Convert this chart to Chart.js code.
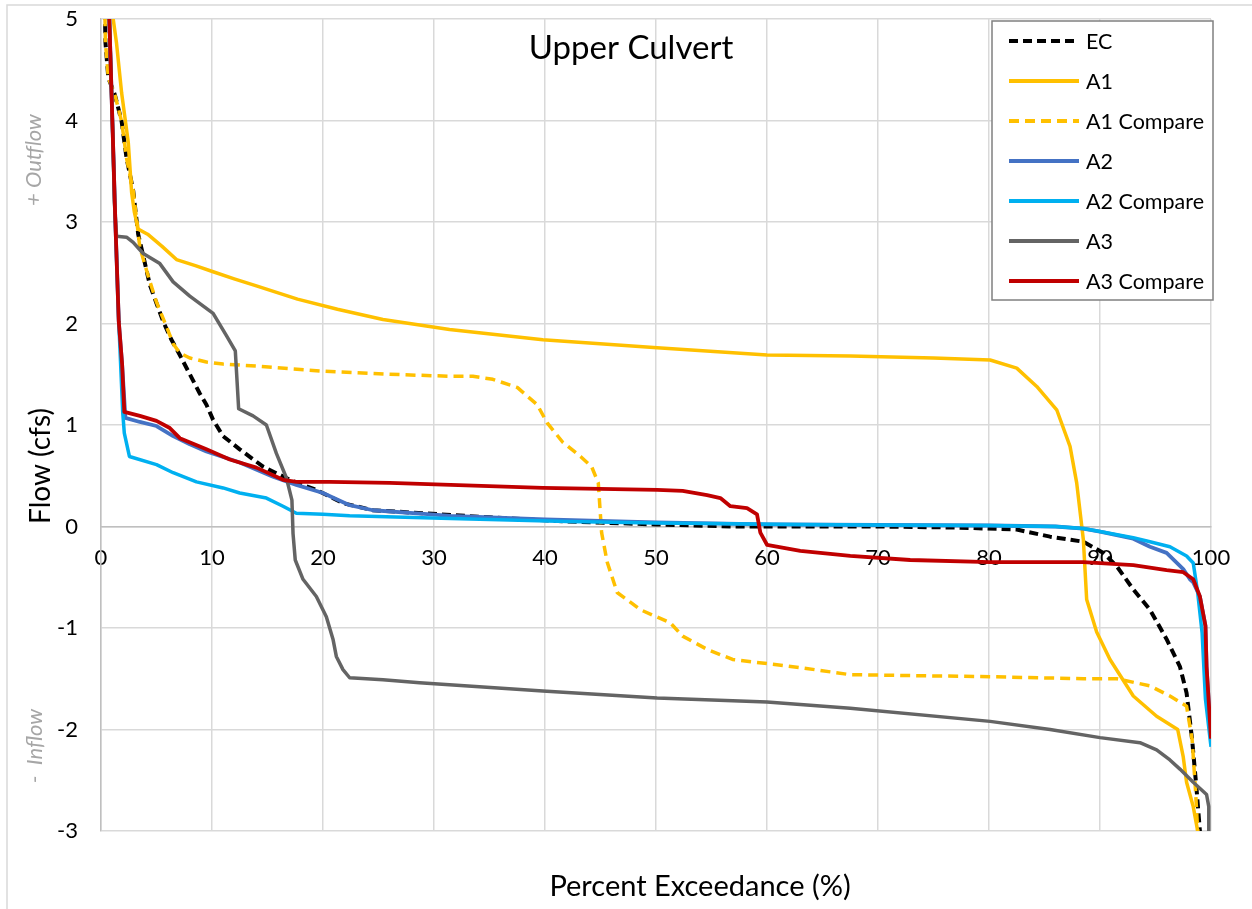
<!DOCTYPE html>
<html>
<head>
<meta charset="utf-8">
<title>Upper Culvert</title>
<script src="https://cdn.jsdelivr.net/npm/chart.js@4.4.1/dist/chart.umd.min.js"></script>
<style>
    html, body { margin: 0; padding: 0; background: #fff; }
    #wrap { width: 1252px; height: 909px; }
</style>
</head>
<body>
<div id="wrap"><canvas id="flowChart" width="1252" height="909"></canvas></div>
<script>
// Axis ticks
const xTicks = [0, 10, 20, 30, 40, 50, 60, 70, 80, 90, 100];
const yTicks = [-3, -2, -1, 0, 1, 2, 3, 4, 5];

// Series (percent exceedance, flow in cfs)
const ecX = [0.3, 0.36, 0.4, 0.66, 1.26, 1.86, 2.3, 2.9, 3.35, 3.9, 4.4, 5.0, 5.6, 6.3, 7.1, 8.0, 8.9, 9.5, 10.1, 11.0, 12.5, 14.6, 17.0, 19.4, 21.8, 24.5, 29.1, 35, 42, 50, 57, 70, 77, 82.5, 85.5, 88.5, 90.3, 91.5, 93.0, 94.5, 96.0, 97.2, 97.8, 98.3, 98.7, 99.0, 99.1];
const ecY = [5.5, 5.0, 4.77, 4.42, 4.25, 3.99, 3.63, 3.31, 2.88, 2.62, 2.38, 2.2, 2.02, 1.85, 1.69, 1.5, 1.31, 1.2, 1.05, 0.89, 0.76, 0.59, 0.46, 0.36, 0.23, 0.16, 0.13, 0.09, 0.05, 0.02, 0.0, 0.0, -0.01, -0.03, -0.1, -0.15, -0.26, -0.39, -0.62, -0.82, -1.11, -1.38, -1.64, -2.1, -2.59, -3.0, -3.2];

const a1X = [1.0, 1.1, 1.4, 1.86, 2.46, 2.76, 3.0, 3.35, 4.2, 5.5, 6.8, 8.5, 10.1, 12, 14.0, 17.7, 21.3, 25.4, 31.4, 39.8, 50.1, 60, 67.5, 75, 80.1, 82.5, 84.3, 86.1, 87.3, 87.9, 88.5, 88.8, 89.7, 90.9, 93.0, 95.1, 97.0, 97.5, 97.8, 98.4, 98.8, 99.0];
const a1Y = [5.5, 5.0, 4.76, 4.27, 3.78, 3.29, 3.1, 2.93, 2.88, 2.76, 2.63, 2.57, 2.51, 2.44, 2.37, 2.24, 2.14, 2.04, 1.94, 1.84, 1.76, 1.69, 1.68, 1.66, 1.64, 1.56, 1.38, 1.15, 0.79, 0.43, -0.13, -0.72, -1.04, -1.31, -1.67, -1.87, -2.0, -2.27, -2.52, -2.76, -3.0, -3.2];

const a1cX = [0.3, 0.36, 0.4, 0.66, 1.26, 1.86, 2.3, 2.9, 3.5, 4.3, 5.0, 5.9, 6.5, 7.1, 8.0, 9.5, 11, 14, 20, 26, 31.4, 33.5, 35.3, 37.5, 39.3, 40.2, 41.6, 43.2, 44.2, 44.8, 45.1, 45.6, 46.5, 48.6, 51.3, 52.4, 54.6, 56.9, 63, 67.5, 80.1, 88.5, 91.5, 94.5, 96.3, 97.8, 98.3, 98.6, 98.8, 98.9];
const a1cY = [5.5, 5.0, 4.77, 4.42, 4.25, 3.99, 3.63, 3.31, 2.75, 2.45, 2.21, 1.97, 1.8, 1.71, 1.66, 1.62, 1.6, 1.58, 1.53, 1.5, 1.48, 1.48, 1.45, 1.37, 1.2, 1.02, 0.83, 0.69, 0.59, 0.43, -0.06, -0.35, -0.65, -0.82, -0.95, -1.08, -1.21, -1.31, -1.39, -1.46, -1.48, -1.5, -1.5, -1.57, -1.67, -1.77, -2.1, -2.59, -3.0, -3.2];

const a2X = [0.6, 0.75, 1.08, 1.3, 1.6, 1.9, 2.2, 3.5, 5.0, 6.5, 8, 9.5, 12.5, 15.5, 17.6, 20, 22.4, 24.5, 29.1, 31.5, 40, 50, 60, 70, 80, 86, 88.5, 90, 93, 94.5, 96, 97.5, 98.1, 98.4, 99, 99.5, 99.6, 100];
const a2Y = [5.5, 5.0, 3.79, 2.98, 2.02, 1.6, 1.07, 1.03, 0.99, 0.89, 0.81, 0.74, 0.63, 0.49, 0.41, 0.33, 0.21, 0.16, 0.125, 0.105, 0.07, 0.04, 0.02, 0.015, 0.01, 0.0, -0.02, -0.05, -0.12, -0.2, -0.26, -0.42, -0.52, -0.55, -0.69, -0.98, -1.38, -2.1];

const a2cX = [0.6, 0.75, 1.08, 1.3, 1.6, 1.96, 2.1, 2.56, 5.0, 6.5, 8.6, 11, 12.5, 14.9, 16.4, 17.6, 20, 22.4, 31.5, 42, 50, 63, 70, 80, 86, 88.5, 90, 93, 94.5, 96.3, 97.8, 98.4, 98.8, 99.2, 99.5, 100];
const a2cY = [5.5, 5.0, 3.79, 2.98, 2.02, 1.12, 0.92, 0.69, 0.61, 0.53, 0.44, 0.38, 0.33, 0.28, 0.2, 0.13, 0.12, 0.105, 0.08, 0.05, 0.035, 0.02, 0.015, 0.01, 0.0, -0.02, -0.05, -0.11, -0.15, -0.2, -0.29, -0.36, -0.65, -1.05, -1.7, -2.17];

const a3X = [0.6, 0.75, 1.08, 1.2, 1.4, 2.3, 2.9, 3.8, 5.3, 6.5, 8.0, 10.1, 11.3, 12.1, 12.4, 13.7, 14.9, 15.8, 16.7, 17.2, 17.3, 17.5, 18.2, 19.4, 20.3, 20.9, 21.2, 21.8, 22.4, 25.4, 28.7, 39.8, 50.1, 60, 67.5, 80.1, 85.5, 90, 93.6, 95.1, 96.3, 97.2, 98.4, 99.6, 99.8, 99.8];
const a3Y = [5.5, 5.0, 3.79, 3.2, 2.86, 2.85, 2.8, 2.69, 2.59, 2.41, 2.27, 2.1, 1.88, 1.73, 1.16, 1.09, 1.0, 0.72, 0.48, 0.26, -0.07, -0.33, -0.52, -0.69, -0.89, -1.11, -1.28, -1.41, -1.49, -1.51, -1.54, -1.62, -1.69, -1.73, -1.79, -1.92, -2.0, -2.08, -2.13, -2.2, -2.3, -2.39, -2.52, -2.64, -2.76, -3.2];

const a3cX = [0.6, 0.75, 1.08, 1.3, 1.6, 1.9, 2.1, 3.5, 5.0, 6.2, 7.1, 9.5, 11.6, 14, 16.4, 17.6, 20.6, 26, 31.5, 39.8, 50.1, 52.4, 54.6, 55.8, 56.7, 58.2, 59.1, 59.4, 60, 63, 67.5, 72.9, 80.1, 88.5, 93, 96, 97.5, 98.4, 99, 99.5, 99.6, 100];
const a3cY = [5.5, 5.0, 3.79, 2.98, 2.02, 1.6, 1.13, 1.09, 1.04, 0.97, 0.87, 0.76, 0.66, 0.58, 0.46, 0.44, 0.44, 0.43, 0.41, 0.38, 0.36, 0.35, 0.31, 0.28, 0.2, 0.18, 0.12, -0.06, -0.18, -0.24, -0.29, -0.33, -0.35, -0.35, -0.38, -0.43, -0.45, -0.52, -0.69, -0.98, -1.38, -2.09];

const seriesNames = ["EC", "A1", "A1 Compare", "A2", "A2 Compare", "A3", "A3 Compare"];

function zip(xs, ys) {
    return xs.map((x, i) => ({ x: x, y: ys[i] }));
}

function line(label, xs, ys, color, width, dash) {
    return {
        label: label,
        data: zip(xs, ys),
        borderColor: color,
        backgroundColor: color,
        borderWidth: width,
        borderDash: dash || [],
        borderJoinStyle: 'round',
        pointRadius: 0,
        tension: 0,
        fill: false
    };
}

const datasets = [
    line(seriesNames[0], ecX, ecY, '#000000', 4, [9, 5]),
    line(seriesNames[1], a1X, a1Y, '#FFC000', 3.5),
    line(seriesNames[2], a1cX, a1cY, '#FFC000', 3.5, [10, 6]),
    line(seriesNames[3], a2X, a2Y, '#4472C4', 3.8),
    line(seriesNames[4], a2cX, a2cY, '#00B0F0', 3.5),
    line(seriesNames[5], a3X, a3Y, '#646464', 3.5),
    line(seriesNames[6], a3cX, a3cY, '#C00000', 3.8)
];
// Excel draws later series on top
datasets.forEach((d, i) => { d.order = datasets.length - i; });

const FONT = 'Lato, "Open Sans", sans-serif';

function rotatedText(ctx, text, x, y, font, color) {
    ctx.save();
    ctx.translate(x, y);
    ctx.rotate(-Math.PI / 2);
    ctx.font = font;
    ctx.fillStyle = color;
    ctx.textAlign = 'center';
    ctx.textBaseline = 'middle';
    ctx.fillText(text, 0, 0);
    ctx.restore();
}

const textPlugin = {
    id: 'chartText',
    beforeDraw(chart) {
        const ctx = chart.ctx;
        ctx.save();
        ctx.fillStyle = '#ffffff';
        ctx.fillRect(0, 0, chart.width, chart.height);
        ctx.strokeStyle = '#d9d9d9';
        ctx.lineWidth = 1.5;
        ctx.beginPath();
        ctx.moveTo(7, chart.height);
        ctx.lineTo(7, 5);
        ctx.lineTo(chart.width, 5);
        ctx.stroke();
        ctx.restore();
    },
    afterDraw(chart) {
        const ctx = chart.ctx;
        ctx.save();

        // title
        ctx.font = '33px ' + FONT;
        ctx.fillStyle = '#000';
        ctx.textAlign = 'center';
        ctx.textBaseline = 'middle';
        ctx.fillText('Upper Culvert', 631, 48);

        // axis titles
        ctx.font = '29px ' + FONT;
        ctx.fillText('Percent Exceedance (%)', 700, 887);
        rotatedText(ctx, 'Flow (cfs)', 41, 466, '28px ' + FONT, '#000');
        rotatedText(ctx, '+ Outflow', 34, 160, 'italic 22px ' + FONT, '#a6a6a6');
        rotatedText(ctx, '-  Inflow', 35, 746, 'italic 22px ' + FONT, '#a6a6a6');

        // legend box
        const bx = 992, by = 21, bw = 221, bh = 279;
        ctx.fillStyle = '#ffffff';
        ctx.fillRect(bx, by, bw, bh);
        ctx.strokeStyle = '#808080';
        ctx.lineWidth = 1.5;
        ctx.strokeRect(bx, by, bw, bh);

        ctx.font = '21.5px ' + FONT;
        ctx.textAlign = 'left';
        chart.data.datasets.forEach((ds, i) => {
            const yy = 41 + i * 40;
            ctx.beginPath();
            ctx.strokeStyle = ds.borderColor;
            ctx.lineWidth = 4;
            ctx.setLineDash(ds.borderDash || []);
            ctx.moveTo(1009, yy);
            ctx.lineTo(1079, yy);
            ctx.stroke();
            ctx.setLineDash([]);
            ctx.fillStyle = '#000';
            ctx.fillText(ds.label, 1086, yy + 1);
        });
        ctx.restore();
    }
};

window.addEventListener('DOMContentLoaded', () => {
    const ctx = document.getElementById('flowChart').getContext('2d');
    new Chart(ctx, {
        type: 'line',
        data: { datasets },
        options: {
            responsive: false,
            devicePixelRatio: 1,
            animation: false,
            layout: { padding: { top: 19, right: 41, bottom: 78, left: 0 } },
            plugins: {
                legend: { display: false },
                title: { display: false },
                tooltip: { enabled: false }
            },
            scales: {
                x: {
                    type: 'linear',
                    position: { y: 0 },
                    min: xTicks[0],
                    max: xTicks[xTicks.length - 1],
                    afterBuildTicks: scale => { scale.ticks = xTicks.map(v => ({ value: v })); },
                    grid: { color: '#d9d9d9', lineWidth: 1.5, drawTicks: false },
                    border: { color: '#bfbfbf', width: 1.5 },
                    ticks: { padding: 18, color: '#000', font: { family: FONT, size: 22 }, maxRotation: 0 }
                },
                y: {
                    type: 'linear',
                    min: yTicks[0],
                    max: yTicks[yTicks.length - 1],
                    afterBuildTicks: scale => { scale.ticks = yTicks.map(v => ({ value: v })); },
                    afterFit: scale => {
                        scale.width = 101;
                        // tick padding is horizontal here, keep it out of the vertical layout
                        scale.paddingTop = 12;
                        scale.paddingBottom = 12;
                    },
                    grid: { color: '#d9d9d9', lineWidth: 1.5, drawTicks: false },
                    border: { color: '#bfbfbf', width: 1.5 },
                    ticks: { padding: 23, color: '#000', font: { family: FONT, size: 22 } }
                }
            }
        },
        plugins: [textPlugin]
    });
});
</script>
</body>
</html>
